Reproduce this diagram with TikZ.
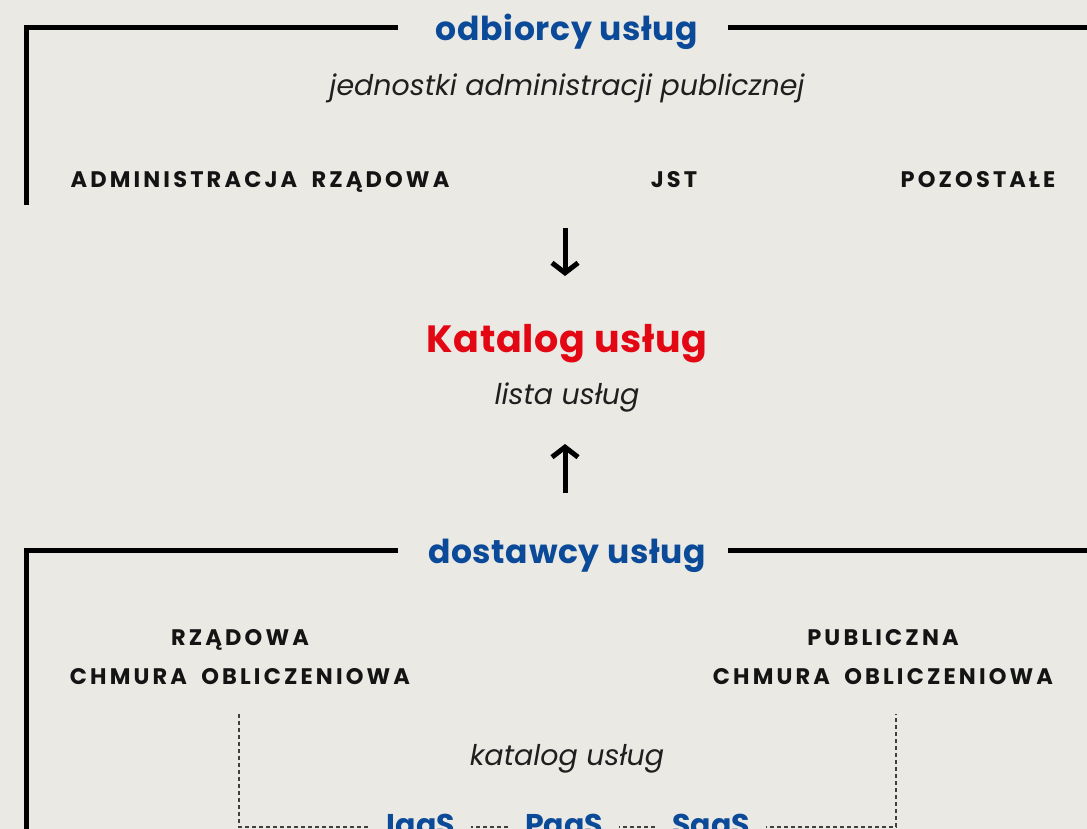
\documentclass[tikz,border=0pt]{standalone}
\usepackage{fontspec}
\setmainfont{Poppins}
\newfontfamily\trackfont[LetterSpace=14,WordSpace=1.8]{Poppins}
\newfontfamily\ttlfont[LetterSpace=2]{Poppins}
\usetikzlibrary{arrows.meta}
\definecolor{bg}{RGB}{234,233,228}
\definecolor{navy}{RGB}{11,74,152}
\definecolor{katred}{RGB}{227,6,19}
\begin{document}
\begin{tikzpicture}[x=1pt,y=-1pt,
  title/.style={font=\ttlfont\fontsize{33}{38}\selectfont\bfseries, text=navy, inner sep=0pt, anchor=base},
  mainttl/.style={font=\ttlfont\fontsize{38}{44}\selectfont\bfseries, text=katred, inner sep=0pt, anchor=base},
  sub/.style={font=\fontsize{28.5}{33}\selectfont\itshape, text=black!88, inner sep=0pt, anchor=base},
  caps/.style={font=\trackfont\fontsize{22.5}{26}\selectfont\bfseries, text=black!92, inner sep=0pt, anchor=base},
  svc/.style={font=\fontsize{30}{36}\selectfont\bfseries, text=navy, fill=bg, inner xsep=16pt, inner ysep=0pt, anchor=base},
  bar/.style={line width=5pt},
  flow/.style={line width=5pt, -{Straight Barb[length=10pt,width=26pt]}},
  dashline/.style={line width=1.2pt, dash pattern=on 4pt off 3pt, black!75}
]
\fill[bg] (0,0) rectangle (1087,829);
\useasboundingbox (0,0) rectangle (1087,829);

% top group
\node[title] (odb) at (567,41) {odbiorcy usług};
\node[sub] (jap) at (567,96) {jednostki administracji publicznej};
\node[caps] (adm) at (260,188) {ADMINISTRACJA RZĄDOWA};
\node[caps] (jst) at (674,188) {JST};
\node[caps] (poz) at (978,188) {POZOSTAŁE};
\coordinate (t1) at (398,28);
\coordinate (tc) at (26,28);
\coordinate (t2) at (26,205);
\coordinate (t3) at (728,28);
\coordinate (t4) at (1092,28);
\draw[bar] (t1) -- (tc) -- (t2);
\draw[bar] (t3) -- (t4);

% centre
\node[mainttl] (kat) at (567,352) {Katalog usług};
\node[sub] (lista) at (567,404) {lista usług};
\coordinate (a1s) at (565,228);
\coordinate (a1e) at (565,276);
\coordinate (a2s) at (565,493);
\coordinate (a2e) at (565,444);
\draw[flow] (a1s) -- (a1e);
\draw[flow] (a2s) -- (a2e);

% bottom group
\node[title] (dost) at (567,563) {dostawcy usług};
\coordinate (b1) at (398,550);
\coordinate (bc) at (26,550);
\coordinate (b2) at (26,835);
\coordinate (b3) at (728,550);
\coordinate (b4) at (1092,550);
\draw[bar] (b1) -- (bc) -- (b2);
\draw[bar] (b3) -- (b4);

\node[caps] (rz) at (240,645) {RZĄDOWA};
\node[caps] (rzc) at (240,684) {CHMURA OBLICZENIOWA};
\node[caps] (pub) at (883,645) {PUBLICZNA};
\node[caps] (pubc) at (883,684) {CHMURA OBLICZENIOWA};

\node[sub] (kus) at (567,765) {katalog usług};
\coordinate (d1) at (239,714);
\coordinate (d2) at (239,827);
\coordinate (d3) at (896,827);
\coordinate (d4) at (896,714);
\draw[dashline] (d1) -- (d2) -- (d3) -- (d4);
\node[svc] (iaas) at (421,835) {IaaS};
\node[svc] (paas) at (564,835) {PaaS};
\node[svc] (saas) at (711,835) {SaaS};
\end{tikzpicture}
\end{document}
